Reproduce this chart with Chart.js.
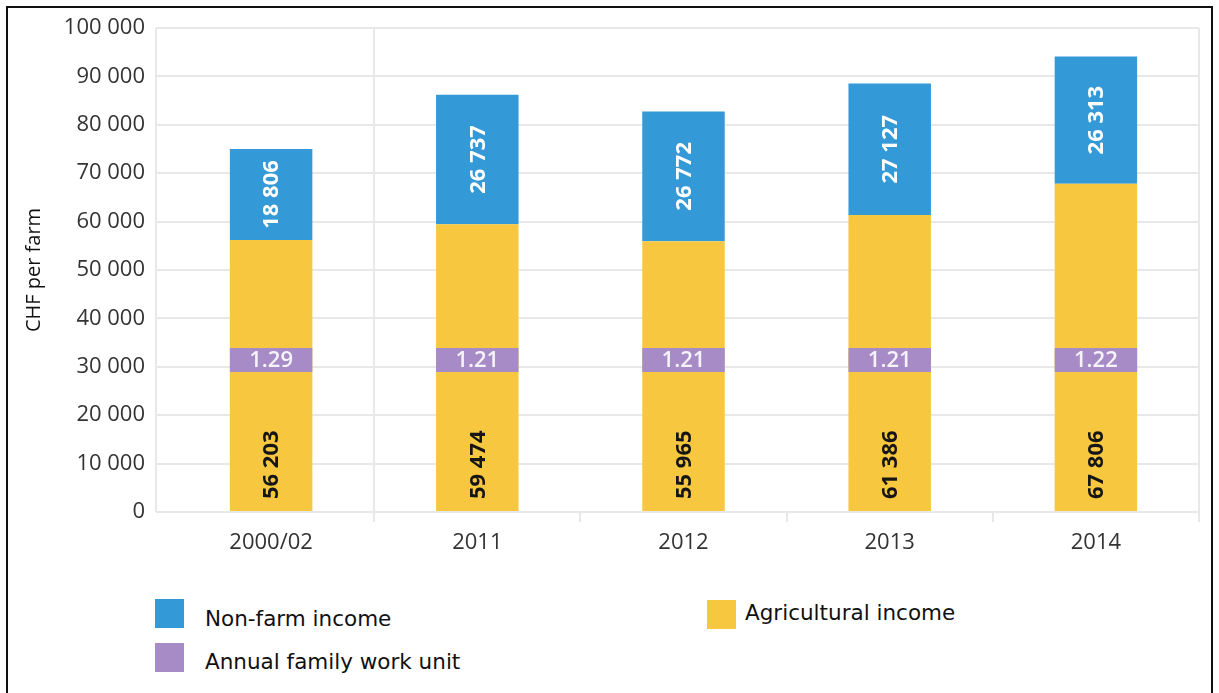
<!DOCTYPE html>
<html>
<head>
<meta charset="utf-8">
<title>Income of farm households</title>
<script src="https://cdn.jsdelivr.net/npm/chart.js@4.4.1/dist/chart.umd.min.js"></script>
<style>
  html, body { margin: 0; padding: 0; background: #fff; }
  #page { position: relative; width: 1219px; height: 693px; overflow: hidden; background: #fff; }
  #frame { position: absolute; left: 6px; top: 6px; width: 1207px; height: 720px; border: 2px solid #111; box-sizing: border-box; }
  #wrap { position: absolute; left: 0; top: 0; width: 1219px; height: 580px; }
  .legend-item { position: absolute; font-family: "DejaVu Sans", sans-serif; font-size: 21.5px; color: #111; white-space: nowrap; }
  .legend-box { position: absolute; width: 29px; height: 29px; }
</style>
</head>
<body>
<div id="page">
  <div id="frame"></div>
  <div id="wrap"><canvas id="chart"></canvas></div>
  <div id="legend"></div>
</div>
<script>
// Income per farm, CHF
const categories = ['2000/02', '2011', '2012', '2013', '2014'];
const agriculturalIncome = [56203, 59474, 55965, 61386, 67806];
const nonFarmIncome = [18806, 26737, 26772, 27127, 26313];
const familyWorkUnits = [1.29, 1.21, 1.21, 1.21, 1.22];
const yTicks = [0, 10000, 20000, 30000, 40000, 50000, 60000, 70000, 80000, 90000, 100000];

const seriesNames = ['Non-farm income', 'Agricultural income', 'Annual family work unit'];
const COLORS = { nonFarm: '#3499d7', agri: '#f7c83f', awu: '#a78bc6', grid: '#e8e8e8' };

const fmt = v => String(v).replace(/\B(?=(\d{3})+(?!\d))/g, ' ');

// Value labels inside the bars plus the work-unit badge on each agricultural bar
const barLabels = {
  id: 'barLabels',
  afterDatasetsDraw(chart, args, opts) {
    const { ctx, scales } = chart;
    const agriMeta = chart.getDatasetMeta(0);
    const nonMeta = chart.getDatasetMeta(1);
    ctx.save();
    // agricultural values, reading upward from near the base
    agriMeta.data.forEach((bar, i) => {
      ctx.save();
      ctx.translate(bar.x, bar.base - 12);
      ctx.rotate(-Math.PI / 2);
      ctx.font = 'bold 22px "Open Sans", sans-serif';
      ctx.fillStyle = '#151515';
      ctx.textAlign = 'left';
      ctx.textBaseline = 'middle';
      ctx.fillText(fmt(agriculturalIncome[i]), 0, 1);
      ctx.restore();
    });
    // non-farm values, centred in the segment
    nonMeta.data.forEach((bar, i) => {
      ctx.save();
      ctx.translate(bar.x, (bar.y + bar.base) / 2);
      ctx.rotate(-Math.PI / 2);
      ctx.font = 'bold 22px "Open Sans", sans-serif';
      ctx.fillStyle = '#ffffff';
      ctx.textAlign = 'center';
      ctx.textBaseline = 'middle';
      ctx.fillText(fmt(nonFarmIncome[i]), 0, 1);
      ctx.restore();
    });
    // work unit badges
    const yc = scales.y.getPixelForValue(opts.badgeAt);
    agriMeta.data.forEach((bar, i) => {
      const w = bar.width;
      ctx.fillStyle = COLORS.awu;
      ctx.fillRect(bar.x - w / 2, yc - 12, w, 24);
      ctx.font = '600 22px "Open Sans", sans-serif';
      ctx.fillStyle = '#f6f3fa';
      ctx.textAlign = 'center';
      ctx.textBaseline = 'middle';
      ctx.fillText(familyWorkUnits[i].toFixed(2), bar.x, yc + 1);
    });
    ctx.restore();
  }
};

// Left frame line of the plot panel
const panelEdge = {
  id: 'panelEdge',
  beforeDatasetsDraw(chart) {
    const { ctx, chartArea } = chart;
    ctx.save();
    ctx.strokeStyle = COLORS.grid;
    ctx.lineWidth = 2;
    ctx.beginPath();
    ctx.moveTo(chartArea.left - 12, chartArea.top);
    ctx.lineTo(chartArea.left - 12, chartArea.bottom);
    ctx.stroke();
    ctx.restore();
  }
};

new Chart(document.getElementById('chart'), {
  type: 'bar',
  data: {
    labels: categories,
    datasets: [
      { label: seriesNames[1], data: agriculturalIncome, backgroundColor: COLORS.agri },
      { label: seriesNames[0], data: nonFarmIncome, backgroundColor: COLORS.nonFarm }
    ]
  },
  plugins: [panelEdge, barLabels],
  options: {
    responsive: true,
    maintainAspectRatio: false,
    animation: false,
    layout: { padding: { left: 12, right: 20, top: 28, bottom: 0 } },
    datasets: { bar: { barPercentage: 0.4, categoryPercentage: 1 } },
    plugins: {
      legend: { display: false },
      tooltip: { enabled: false },
      barLabels: { badgeAt: 31400 }
    },
    scales: {
      x: {
        stacked: true,
        afterFit: s => { s.height = 68; },
        border: { display: false },
        grid: {
          offset: true,
          lineWidth: 2,
          tickLength: 10,
          color: c => (c.type !== 'tick' || c.index === 1) ? COLORS.grid : 'rgba(0,0,0,0)',
          tickColor: c => (c.type === 'tick' && c.index === 0) ? 'rgba(0,0,0,0)' : COLORS.grid
        },
        ticks: { color: '#333', padding: 8, font: { family: '"Open Sans", sans-serif', size: 22 } }
      },
      y: {
        stacked: true,
        min: 0,
        max: 100000,
        afterFit: s => { s.width = 156; },
        afterBuildTicks: s => { s.ticks = yTicks.map(v => ({ value: v })); },
        border: { display: false },
        grid: { color: COLORS.grid, lineWidth: 2, tickLength: 12, tickColor: COLORS.grid },
        ticks: {
          color: '#333',
          padding: 11,
          font: { family: '"Open Sans", sans-serif', size: 22 },
          callback: v => fmt(v)
        },
        title: {
          display: true,
          text: 'CHF per farm',
          color: '#111',
          padding: { top: 10, bottom: 0 },
          font: { family: '"Open Sans", sans-serif', size: 20 }
        }
      }
    }
  }
});

// Legend laid out in two columns below the plot
const legendItems = [
  { name: seriesNames[0], color: COLORS.nonFarm, x: 155, y: 599, tx: 205, ty: 606 },
  { name: seriesNames[1], color: COLORS.agri, x: 707, y: 600, tx: 745, ty: 600 },
  { name: seriesNames[2], color: COLORS.awu, x: 155, y: 643, tx: 205, ty: 649 }
];
const legendEl = document.getElementById('legend');
legendItems.forEach(it => {
  const box = document.createElement('div');
  box.className = 'legend-box';
  box.style.left = it.x + 'px';
  box.style.top = it.y + 'px';
  box.style.background = it.color;
  legendEl.appendChild(box);
  const txt = document.createElement('div');
  txt.className = 'legend-item';
  txt.textContent = it.name;
  txt.style.left = it.tx + 'px';
  txt.style.top = it.ty + 'px';
  legendEl.appendChild(txt);
});
</script>
</body>
</html>
